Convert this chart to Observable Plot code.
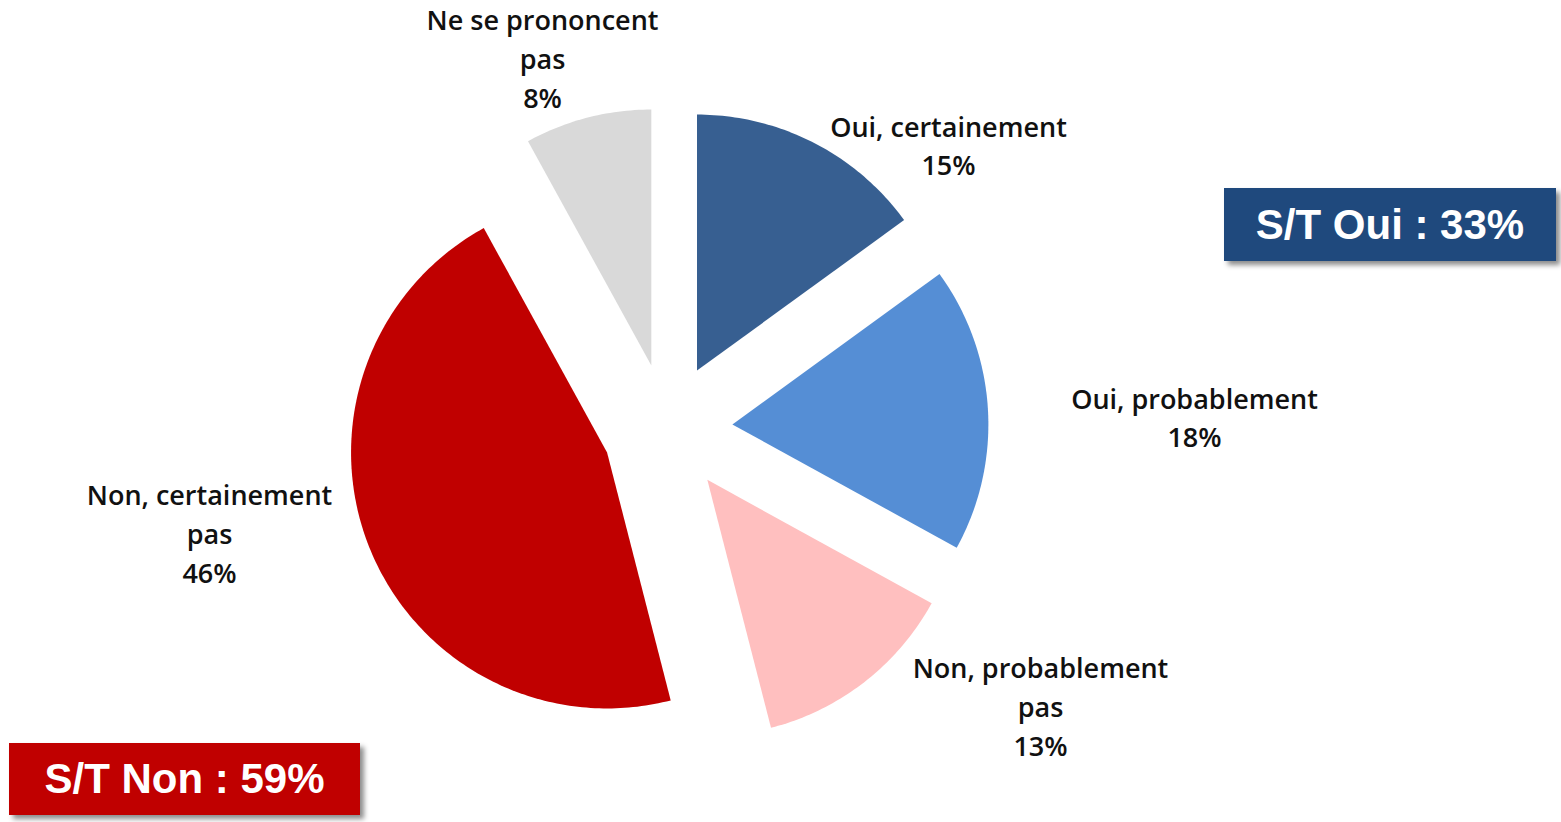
<!DOCTYPE html>
<html><head><meta charset="utf-8">
<script src="https://cdn.jsdelivr.net/npm/d3@7"></script>
<script src="https://cdn.jsdelivr.net/npm/@observablehq/plot@0.6"></script>
<style>
body{margin:0;background:#fff;}
#wrap{position:relative;width:1561px;height:822px;overflow:hidden;}
.box{position:absolute;color:#fff;font-family:Arial,"Liberation Sans",sans-serif;font-weight:bold;font-size:42px;display:flex;align-items:center;justify-content:center;box-shadow:4px 4px 5px rgba(0,0,0,0.45);}
</style></head><body><div id="wrap"></div>
<script>
// ---- data ----
const categories = ["Oui, certainement","Oui, probablement","Non, probablement pas","Non, certainement pas","Ne se prononcent pas"];
const labelLines = [["Oui, certainement"],["Oui, probablement"],["Non, probablement","pas"],["Non, certainement","pas"],["Ne se prononcent","pas"]];
const values = [15,18,13,46,8];
const colors = ["#375F91","#558ED5","#FFBFBF","#C00000","#D9D9D9"];
const subtotalLabels = ["S/T Oui : 33%","S/T Non : 59%"];
const subtotalColors = ["#1F497D","#C00000"];

// ---- layout ----
const W = 1561, H = 822;
const cx = 667, cy = 428, R = 256, explode = 65;
const labelPos = [[948,143],[1194,415],[1040,704],[209,531],[542,56]];

const arcs = d3.pie().sort(null).value(d => d)(values);
const pts = [];
arcs.forEach((a, i) => {
  const mid = (a.startAngle + a.endAngle) / 2;
  const ox = cx + explode * Math.sin(mid), oy = cy - explode * Math.cos(mid);
  pts.push({cat: categories[i], x: ox, y: oy});
  const n = Math.max(8, Math.ceil((a.endAngle - a.startAngle) * 60));
  for (let k = 0; k <= n; k++) {
    const t = a.startAngle + (a.endAngle - a.startAngle) * k / n;
    pts.push({cat: categories[i], x: ox + R * Math.sin(t), y: oy - R * Math.cos(t)});
  }
  pts.push({cat: categories[i], x: ox, y: oy});
});

const labels = categories.map((c, i) => ({
  cat: c,
  text: labelLines[i].concat([values[i] + "%"]).join("\n"),
  x: labelPos[i][0], y: labelPos[i][1]
}));

const chart = Plot.plot({
  width: W, height: H,
  margin: 0,
  x: {domain: [0, W], range: [0, W], axis: null},
  y: {domain: [0, H], range: [0, H], axis: null},
  color: {domain: categories, range: colors},
  marks: [
    Plot.line(pts, {x: "x", y: "y", z: "cat", fill: "cat", stroke: null, curve: "linear"}),
    Plot.text(labels, {x: "x", y: "y", text: "text", fontSize: 27, lineHeight: 1.44, lineAnchor: "middle",
      fontFamily: "'Open Sans', Lato, sans-serif", fontWeight: 600, fill: "#111"})
  ],
  style: {background: "transparent"}
});
const wrap = document.getElementById("wrap");
wrap.appendChild(chart);

const boxes = [
  {text: subtotalLabels[0], color: subtotalColors[0], left: 1224, top: 188, w: 332, h: 73},
  {text: subtotalLabels[1], color: subtotalColors[1], left: 9, top: 743, w: 351, h: 72}
];
boxes.forEach(b => {
  const d = document.createElement("div");
  d.className = "box";
  d.textContent = b.text;
  Object.assign(d.style, {left: b.left + "px", top: b.top + "px", width: b.w + "px", height: b.h + "px", background: b.color});
  wrap.appendChild(d);
});
</script></body></html>
